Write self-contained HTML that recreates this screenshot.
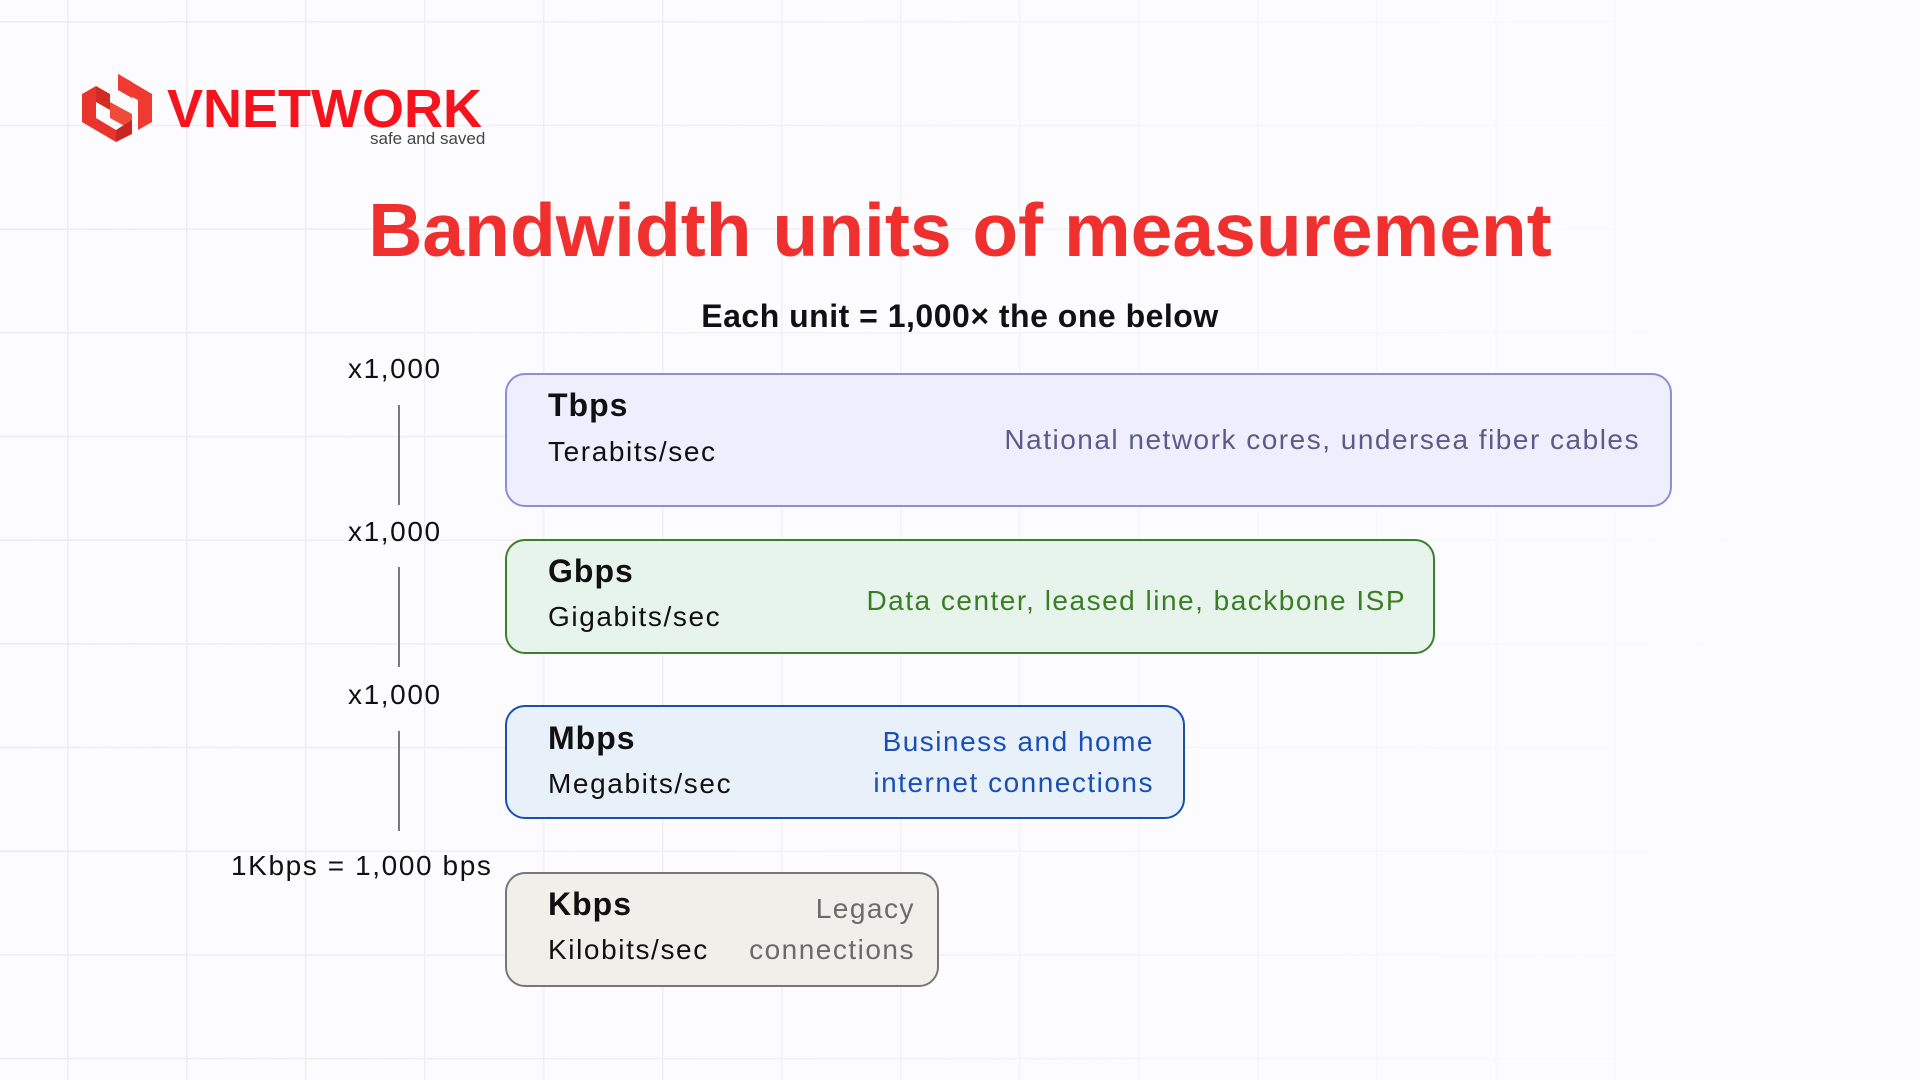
<!DOCTYPE html>
<html><head><meta charset="utf-8"><style>
html,body{margin:0;padding:0}
body{width:1920px;height:1080px;position:relative;overflow:hidden;background:#fcfcfe;font-family:"Liberation Sans",Arial,sans-serif;}
.grid{position:absolute;left:0;top:0;width:1920px;height:1080px;
background-image:linear-gradient(to right,#ececf0 1.5px,transparent 1.5px),linear-gradient(to bottom,#ececf0 1.5px,transparent 1.5px);
background-size:119px 103.7px;background-position:67px 21px;
-webkit-mask-image:linear-gradient(to right,rgba(0,0,0,1) 0%,rgba(0,0,0,.6) 50%,rgba(0,0,0,.1) 80%,rgba(0,0,0,0) 100%);}
.t{position:absolute;line-height:1;white-space:nowrap}
.box{position:absolute;box-sizing:border-box;border:2px solid;border-radius:20px}
.vl{position:absolute;left:398px;width:2px;background:#7a7a7a}
.bt{font-weight:bold;font-size:32px;color:#111;letter-spacing:1px}
.st{font-size:28px;color:#111;letter-spacing:1.6px}
.r{font-size:28px;text-align:right;letter-spacing:1.5px}
.x{font-size:28px;color:#111;letter-spacing:1.6px}
</style></head><body>
<div class="grid"></div>
<svg style="position:absolute;left:80px;top:72px" width="74" height="72" viewBox="0 0 74 72">
<polygon points="2,22 16,14 16,46 36,58 36,70 2,50" fill="#e8342c"/>
<polygon points="16,14 30,22 30,38 16,30" fill="#d42a24"/>
<polygon points="38,2 52,10 52,26 38,18" fill="#e8342c"/>
<polygon points="38,2 72,22 72,50 58,58 58,28 38,18" fill="#ee3a30"/>
<polygon points="30,30 52,42 52,58 30,46" fill="#f04a3a"/>
<polygon points="36,58 52,48 52,62 36,70" fill="#c82620"/>
</svg>
<div class="t" style="left:167px;top:82px;font-size:54px;font-weight:bold;color:#f5141e">VNETWORK</div>
<div class="t" style="left:370px;top:130px;font-size:17px;color:#444">safe and saved</div>
<div class="t" style="left:0;width:1920px;text-align:center;top:193px;font-size:75px;font-weight:bold;color:#f0302e">Bandwidth units of measurement</div>
<div class="t" style="left:0;width:1920px;text-align:center;top:300px;font-size:32px;font-weight:bold;color:#111;letter-spacing:0.5px">Each unit = 1,000× the one below</div>

<div class="t x" style="left:348px;top:355px">x1,000</div>
<div class="t x" style="left:348px;top:518px">x1,000</div>
<div class="t x" style="left:348px;top:681px">x1,000</div>
<div class="t x" style="left:231px;top:852px">1Kbps = 1,000 bps</div>
<div class="vl" style="top:405px;height:100px"></div>
<div class="vl" style="top:567px;height:100px"></div>
<div class="vl" style="top:731px;height:100px"></div>

<div class="box" style="left:505px;top:373px;width:1167px;height:134px;background:#eeeefc;border-color:#8a8fd8"></div>
<div class="t bt" style="left:548px;top:389px">Tbps</div>
<div class="t st" style="left:548px;top:438px">Terabits/sec</div>
<div class="t r" style="right:280px;top:426px;color:#5b5b8a">National network cores, undersea fiber cables</div>

<div class="box" style="left:505px;top:539px;width:930px;height:115px;background:#e6f4ec;border-color:#3f7f2a"></div>
<div class="t bt" style="left:548px;top:555px">Gbps</div>
<div class="t st" style="left:548px;top:603px">Gigabits/sec</div>
<div class="t r" style="right:514px;top:587px;color:#3b7d25">Data center, leased line, backbone ISP</div>

<div class="box" style="left:505px;top:705px;width:680px;height:114px;background:#e8f1fa;border-color:#1a4fb0"></div>
<div class="t bt" style="left:548px;top:722px">Mbps</div>
<div class="t st" style="left:548px;top:770px">Megabits/sec</div>
<div class="t r" style="right:766px;top:728px;color:#1a4fb8">Business and home</div>
<div class="t r" style="right:766px;top:769px;color:#1a4fb8">internet connections</div>

<div class="box" style="left:505px;top:872px;width:434px;height:115px;background:#f0efea;border-color:#777"></div>
<div class="t bt" style="left:548px;top:888px">Kbps</div>
<div class="t st" style="left:548px;top:936px">Kilobits/sec</div>
<div class="t r" style="right:1005px;top:895px;color:#6b6b6b">Legacy</div>
<div class="t r" style="right:1005px;top:936px;color:#6b6b6b">connections</div>
</body></html>
